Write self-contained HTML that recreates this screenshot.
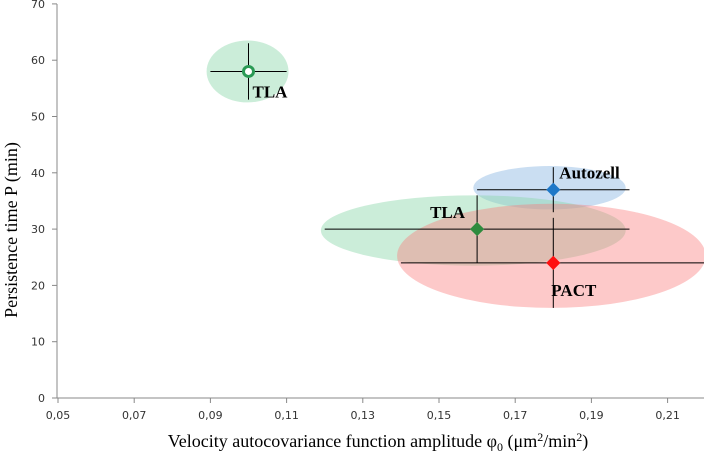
<!DOCTYPE html>
<html><head><meta charset="utf-8"><style>
body{margin:0;background:#fff;}
svg{display:block;}
.t{font-family:"DejaVu Sans","Liberation Sans",sans-serif;font-size:11px;fill:#333;}
.s{font-family:"Liberation Serif",serif;fill:#000;}
</style></head><body>
<svg width="704" height="457">
<g id="ell"></g><g id="axes"></g><g id="marks"></g>
</svg>
<script>
const xTicks=[0.05,0.07,0.09,0.11,0.13,0.15,0.17,0.19,0.21];
const yTicks=[0,10,20,30,40,50,60,70];
const names=["TLA","Autozell","TLA","PACT"];
const xVals=[0.10,0.18,0.16,0.18];
const yVals=[58,37,30,24];
const xLo=[0.09,0.16,0.12,0.14];
const xHi=[0.11,0.20,0.20,0.22];
const yLo=[53,33,24,16];
const yHi=[63,41,36,32];
const ellX=[[0.089,0.1105],[0.159,0.199],[0.119,0.199],[0.139,0.22]];
const ellY=[[52.5,63.5],[33.5,41.2],[23.5,36],[16,34.5]];
const colors=["#2a9a55","#1f78c8","#2e8b3e","#ff1010"];
const fills=["rgba(140,215,170,0.45)","rgba(150,190,230,0.5)","rgba(140,215,170,0.45)","rgba(250,120,120,0.4)"];
const NS="http://www.w3.org/2000/svg";
const X=v=>58+(v-0.05)/0.02*76.2;
const Y=v=>398-v*5.63;
function mk(p,tag,a){const e=document.createElementNS(NS,tag);for(const k in a)e.setAttribute(k,a[k]);document.getElementById(p).appendChild(e);return e;}
let e;
e=mk("axes","line",{x1:57,y1:4,x2:57,y2:398,stroke:"#888"});


e=mk("axes","line",{x1:57,y1:398,x2:704,y2:398,stroke:"#888"});


yTicks.forEach(v=>{
 mk("axes","line",{x1:52,y1:Y(v),x2:57,y2:Y(v),stroke:"#888"});
 e=mk("axes","text",{x:45,y:Y(v)+4,class:"t","text-anchor":"end"});e.textContent=v;
 
 
});
xTicks.forEach(v=>{
 mk("axes","line",{x1:X(v),y1:398,x2:X(v),y2:403,stroke:"#888"});
 e=mk("axes","text",{x:X(v),y:419,class:"t","text-anchor":"middle"});e.textContent=v.toFixed(2).replace(".",",");
 
 
});
e=mk("axes","text",{x:0,y:0,class:"s","font-size":"18","text-anchor":"middle",transform:"translate(17,230) rotate(-90)"});
e.textContent="Persistence time P (min)";


e=mk("axes","text",{x:378,y:447,class:"s","font-size":"18","text-anchor":"middle"});
e.innerHTML='Velocity autocovariance function amplitude φ<tspan font-size="12" dy="4">0</tspan><tspan dy="-4"> (μm</tspan><tspan font-size="12" dy="-6">2</tspan><tspan dy="6">/min</tspan><tspan font-size="12" dy="-6">2</tspan><tspan dy="6">)</tspan>';


const lblOff=[[4,26],[6,-11],[-47,-11],[-2,33]];
for(let i=0;i<names.length;i++){
 const cx=(X(ellX[i][0])+X(ellX[i][1]))/2, cy=(Y(ellY[i][0])+Y(ellY[i][1]))/2;
 e=mk("ell","ellipse",{cx:cx,cy:cy,rx:(X(ellX[i][1])-X(ellX[i][0]))/2,ry:(Y(ellY[i][0])-Y(ellY[i][1]))/2,fill:fills[i]});
 
 
 const px=X(xVals[i]),py=Y(yVals[i]);
 e=mk("marks","line",{x1:X(xLo[i]),y1:py,x2:X(xHi[i]),y2:py,stroke:"#000"});
 
 
 e=mk("marks","line",{x1:px,y1:Y(yLo[i]),x2:px,y2:Y(yHi[i]),stroke:"#000"});
 
 
 if(i===0){
  e=mk("marks","circle",{cx:px,cy:py,r:5,fill:"#fff",stroke:colors[i],"stroke-width":3});
 }else{
  e=mk("marks","rect",{x:px-5,y:py-5,width:10,height:10,fill:colors[i],transform:`rotate(45 ${px} ${py})`});
 }
 
 
 e=mk("marks","text",{x:px+lblOff[i][0],y:py+lblOff[i][1],class:"s","font-size":"17","font-weight":"bold"});
 e.textContent=names[i];
 
 
}
</script>
</body></html>
